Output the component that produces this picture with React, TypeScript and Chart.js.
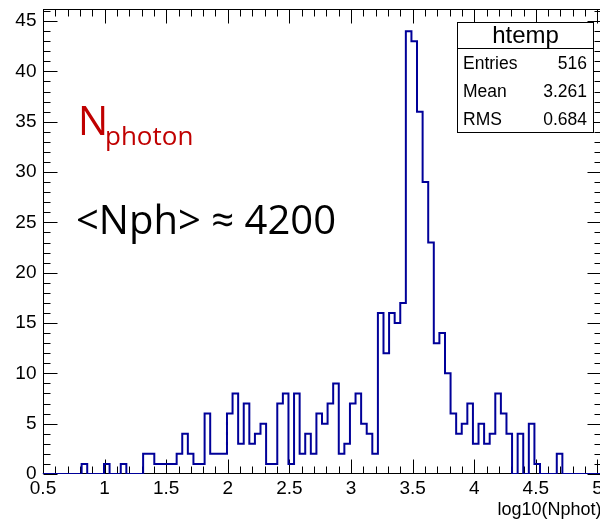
import React, { useEffect, useRef } from "react";
import { Chart, registerables } from "chart.js";

Chart.register(...registerables);

// ---- data ----
// histogram range (100 bins)
const X_MIN = 0.496;
const X_MAX = 5.033;
const Y_MAX = 46.2;

// 100 bins of log10(Nphot)
const counts = [
  0, 0, 0, 0, 0, 0, 0, 1, 0, 0,
  0, 1, 0, 0, 1, 0, 0, 0, 2, 2,
  1, 1, 1, 1, 2, 4, 2, 1, 1, 6,
  2, 2, 2, 6, 8, 3, 7, 3, 4, 5,
  1, 1, 7, 8, 1, 8, 2, 4, 2, 6,
  5, 7, 9, 2, 3, 7, 8, 5, 4, 2,
  16, 12, 16, 15, 17, 44, 43, 36, 29, 23,
  13, 14, 10, 6, 4, 5, 7, 3, 5, 3,
  4, 8, 6, 4, 0, 4, 0, 5, 1, 0,
  0, 0, 2, 0, 0, 0, 0, 0, 0, 0,
];

const xTickValues = [0.5, 1, 1.5, 2, 2.5, 3, 3.5, 4, 4.5, 5];
const xTickLabels = ["0.5", "1", "1.5", "2", "2.5", "3", "3.5", "4", "4.5", "5"];
const yTickValues = [0, 5, 10, 15, 20, 25, 30, 35, 40, 45];
const yTickLabels = ["0", "5", "10", "15", "20", "25", "30", "35", "40", "45"];
const xTitle = "log10(Nphot)";

const statsTitle = "htemp";
const statsLabels = ["Entries", "Mean", "RMS"];
const statsValues = ["516", "3.261", "0.684"];

const noteMain = "N";
const noteSub = "photon";
const noteMean = "<Nph> \u2248 4200";

const ROOT_FONT = "'Liberation Sans', Arial, sans-serif";
const NOTE_FONT = "'Open Sans', 'Noto Sans', sans-serif";

const framePlugin = {
  id: "rootFrame",
  beforeDatasetsDraw(chart: any) {
    const { ctx, chartArea: a, scales } = chart;
    const xs = scales.x;
    const ys = scales.y;
    ctx.save();
    ctx.strokeStyle = "#000";
    ctx.lineWidth = 1;
    const L = Math.round(a.left) + 0.5;
    const R = Math.round(a.right) - 0.5;
    const T = Math.round(a.top) + 0.5;
    const B = Math.round(a.bottom) - 0.5;
    ctx.strokeRect(L, T, R - L, B - T);
    ctx.beginPath();
    // x ticks every 0.1 from 0.5 to 5
    for (let i = 0; i <= 45; i++) {
      const v = 0.5 + i * 0.1;
      const px = Math.round(xs.getPixelForValue(v)) + 0.5;
      const len = i % 5 === 0 ? 14 : 7;
      ctx.moveTo(px, B);
      ctx.lineTo(px, B - len);
      ctx.moveTo(px, T);
      ctx.lineTo(px, T + len);
    }
    // y ticks every 1
    for (let v = 0; v <= 46; v++) {
      const py = Math.round(ys.getPixelForValue(v)) + 0.5;
      const len = v % 5 === 0 ? 14 : 7;
      ctx.moveTo(L, py);
      ctx.lineTo(L + len, py);
      ctx.moveTo(R, py);
      ctx.lineTo(R - len, py);
    }
    ctx.stroke();
    ctx.restore();
  },
  afterDatasetsDraw(chart: any) {
    const { ctx } = chart;
    ctx.save();
    // stats box
    const bx = 457.5, by = 22.5, bw = 136, bh = 110;
    ctx.fillStyle = "#fff";
    ctx.fillRect(bx, by, bw, bh);
    ctx.strokeStyle = "#000";
    ctx.lineWidth = 1;
    ctx.strokeRect(bx, by, bw, bh);
    ctx.beginPath();
    ctx.moveTo(bx, 48.5);
    ctx.lineTo(bx + bw, 48.5);
    ctx.stroke();
    ctx.fillStyle = "#000";
    ctx.textBaseline = "middle";
    ctx.textAlign = "center";
    ctx.font = `24px ${ROOT_FONT}`;
    ctx.fillText(statsTitle, bx + bw / 2, 36);
    ctx.font = `17.5px ${ROOT_FONT}`;
    const rowsY = [64, 92, 120];
    statsLabels.forEach((lab, i) => {
      ctx.textAlign = "left";
      ctx.fillText(lab, 463, rowsY[i]);
      ctx.textAlign = "right";
      ctx.fillText(statsValues[i], 587, rowsY[i]);
    });
    ctx.restore();
  },
  afterDraw(chart: any) {
    const { ctx, chartArea: a } = chart;
    ctx.save();
    // x axis title, right-aligned at the axis end
    ctx.fillStyle = "#000";
    ctx.font = `18px ${ROOT_FONT}`;
    ctx.textAlign = "right";
    ctx.textBaseline = "alphabetic";
    ctx.fillText(xTitle, a.right, 515);
    // annotations
    ctx.textAlign = "left";
    ctx.fillStyle = "#c00000";
    ctx.font = `40px ${NOTE_FONT}`;
    ctx.fillText(noteMain, 78, 135);
    ctx.font = `26px ${NOTE_FONT}`;
    ctx.fillText(noteSub, 105, 145);
    ctx.fillStyle = "#000";
    ctx.font = `40px ${NOTE_FONT}`;
    ctx.fillText(noteMean, 76, 234);
    ctx.restore();
  },
};

export default function App() {
  const ref = useRef<HTMLCanvasElement | null>(null);
  useEffect(() => {
    if (!ref.current) return;
    const binWidth = (X_MAX - X_MIN) / counts.length;
    const points = counts.map((c, i) => ({ x: X_MIN + i * binWidth, y: c }));
    points.push({ x: X_MAX, y: counts[counts.length - 1] });
    const chart = new Chart(ref.current, {
      type: "line",
      data: {
        datasets: [
          {
            data: points,
            stepped: true,
            borderColor: "#000099",
            borderWidth: 2,
            pointRadius: 0,
            fill: false,
          } as any,
        ],
      },
      options: {
        animation: false,
        responsive: false,
        devicePixelRatio: 1,
        layout: { padding: { top: 9, right: 2.5, left: 0, bottom: 0 } },
        plugins: {
          legend: { display: false },
          tooltip: { enabled: false },
        },
        scales: {
          x: {
            type: "linear",
            min: X_MIN,
            max: X_MAX,
            afterFit: (s: any) => {
              s.height = 49;
              s.paddingLeft = 0;
              s.paddingRight = 0;
            },
            afterBuildTicks: (s: any) => {
              s.ticks = xTickValues.map((v) => ({ value: v }));
            },
            ticks: {
              callback: (_v: any, i: number) => xTickLabels[i],
              font: { family: ROOT_FONT, size: 19 },
              color: "#000",
              padding: 3,
              maxRotation: 0,
              autoSkip: false,
            },
            grid: { display: false, drawTicks: false },
            border: { display: false },
          },
          y: {
            type: "linear",
            min: 0,
            max: Y_MAX,
            afterFit: (s: any) => {
              s.width = 42.5;
              s.paddingTop = 0;
              s.paddingBottom = 0;
            },
            afterBuildTicks: (s: any) => {
              s.ticks = yTickValues.map((v) => ({ value: v }));
            },
            ticks: {
              callback: (_v: any, i: number) => yTickLabels[i],
              font: { family: ROOT_FONT, size: 19 },
              color: "#000",
              padding: 6,
              autoSkip: false,
            },
            grid: { display: false, drawTicks: false },
            border: { display: false },
          },
        },
      },
      plugins: [framePlugin],
    });
    return () => chart.destroy();
  }, []);
  return (
    <div
      style={{
        position: "fixed",
        left: 0,
        top: 0,
        width: 600,
        height: 523,
        overflow: "hidden",
        background: "#fff",
      }}
    >
      <canvas ref={ref} width={604} height={523} style={{ display: "block" }} />
    </div>
  );
}
